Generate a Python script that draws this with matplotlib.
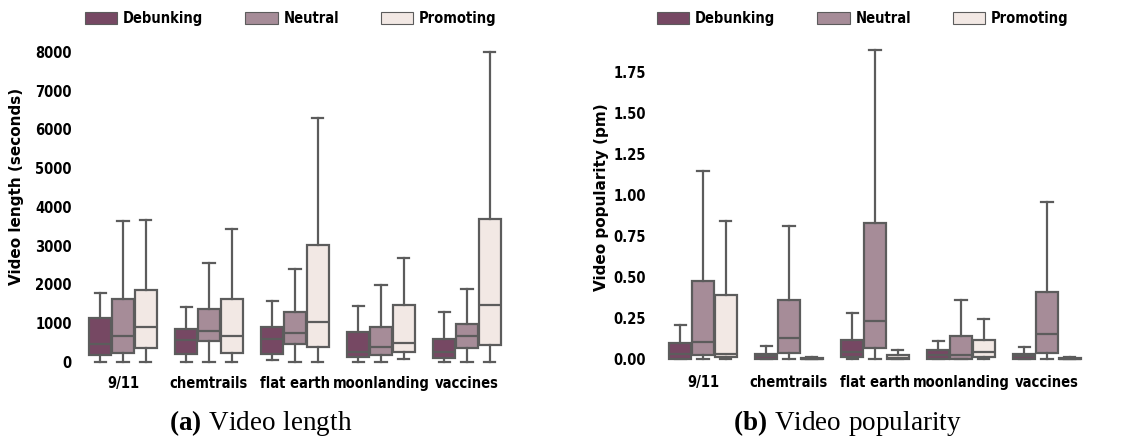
import matplotlib
matplotlib.use("Agg")
import matplotlib.pyplot as plt
from matplotlib.patches import Patch

plt.rcParams["font.family"] = ["DejaVu Sans"]
plt.rcParams["font.stretch"] = "condensed"
plt.rcParams["mathtext.fontset"] = "custom"
plt.rcParams["mathtext.rm"] = "Liberation Serif"
plt.rcParams["mathtext.bf"] = "Liberation Serif:bold"

categories = ["9/11", "chemtrails", "flat earth", "moonlanding", "vaccines"]
stances = ["Debunking", "Neutral", "Promoting"]
colors = ["#764863", "#A68C98", "#F2E8E4"]
edge = "#5c5c5c"

# Video length (seconds): per stance, per category -> whislo, q1, med, q3, whishi
len_whislo = {
    "Debunking": [0, 0, 40, 0, 0],
    "Neutral":   [0, 0, 0, 0, 0],
    "Promoting": [0, 0, 0, 80, 0],
}
len_q1 = {
    "Debunking": [170, 210, 200, 125, 90],
    "Neutral":   [230, 530, 455, 160, 360],
    "Promoting": [360, 230, 375, 255, 430],
}
len_med = {
    "Debunking": [445, 555, 580, 255, 245],
    "Neutral":   [670, 790, 745, 385, 650],
    "Promoting": [900, 660, 1030, 490, 1455],
}
len_q3 = {
    "Debunking": [1135, 835, 885, 755, 590],
    "Neutral":   [1610, 1350, 1290, 885, 970],
    "Promoting": [1845, 1620, 3020, 1470, 3690],
}
len_whishi = {
    "Debunking": [1770, 1400, 1560, 1430, 1275],
    "Neutral":   [3640, 2560, 2400, 1975, 1870],
    "Promoting": [3660, 3425, 6300, 2670, 8000],
}

# Video popularity (pm)
pop_whislo = {
    "Debunking": [0, 0, 0, 0, 0],
    "Neutral":   [0, 0, 0, 0, 0],
    "Promoting": [0, 0, 0, 0, 0],
}
pop_q1 = {
    "Debunking": [0.005, 0.003, 0.015, 0.004, 0.004],
    "Neutral":   [0.025, 0.04, 0.07, 0.004, 0.04],
    "Promoting": [0.015, 0.0, 0.003, 0.015, 0.0],
}
pop_med = {
    "Debunking": [0.035, 0.022, 0.045, 0.025, 0.022],
    "Neutral":   [0.105, 0.13, 0.235, 0.03, 0.155],
    "Promoting": [0.035, 0.002, 0.012, 0.045, 0.003],
}
pop_q3 = {
    "Debunking": [0.10, 0.035, 0.12, 0.055, 0.035],
    "Neutral":   [0.48, 0.36, 0.83, 0.145, 0.41],
    "Promoting": [0.39, 0.008, 0.03, 0.12, 0.008],
}
pop_whishi = {
    "Debunking": [0.21, 0.08, 0.28, 0.11, 0.075],
    "Neutral":   [1.145, 0.815, 1.885, 0.36, 0.955],
    "Promoting": [0.845, 0.015, 0.06, 0.245, 0.015],
}

len_yticks = [0, 1000, 2000, 3000, 4000, 5000, 6000, 7000, 8000]
pop_yticks = [0.0, 0.25, 0.5, 0.75, 1.0, 1.25, 1.5, 1.75]
pop_yticklabels = ["0.00", "0.25", "0.50", "0.75", "1.00", "1.25", "1.50", "1.75"]

fig = plt.figure(figsize=(11.29, 4.41), dpi=100)

ax1 = fig.add_axes([80 / 1129, 0.1624, 430 / 1129, 0.7458])
ax2 = fig.add_axes([660 / 1129, 0.1662, 430 / 1129, 0.7567])


def draw(ax, wlo, q1, med, q3, whi):
    width = 0.8 / 3
    for si, s in enumerate(stances):
        stats = []
        positions = []
        for ci, c in enumerate(categories):
            stats.append(dict(whislo=wlo[s][ci], q1=q1[s][ci], med=med[s][ci],
                              q3=q3[s][ci], whishi=whi[s][ci], fliers=[]))
            positions.append(ci - 0.8 / 2 + width * (si + 0.5))
        ax.bxp(stats, positions=positions, widths=width * 0.97, patch_artist=True,
               showfliers=False, manage_ticks=False,
               boxprops=dict(facecolor=colors[si], edgecolor=edge, linewidth=1.6),
               medianprops=dict(color=edge, linewidth=1.6),
               whiskerprops=dict(color=edge, linewidth=1.6),
               capprops=dict(color=edge, linewidth=1.6))
    ax.set_xlim(-0.5, len(categories) - 0.5)
    ax.set_xticks(range(len(categories)))
    ax.set_xticklabels(categories, fontsize=10.5, fontweight="bold")
    for sp in ax.spines.values():
        sp.set_visible(False)
    ax.tick_params(axis="both", length=0)
    ax.tick_params(axis="x", pad=5)


draw(ax1, len_whislo, len_q1, len_med, len_q3, len_whishi)
ax1.set_ylim(-200, 8300)
ax1.set_yticks(len_yticks)
ax1.set_yticklabels([str(v) for v in len_yticks], fontsize=10.5, fontweight="bold")
ax1.tick_params(axis="y", pad=6)
ax1.set_ylabel("Video length (seconds)", fontsize=11, fontweight="bold", fontstretch="normal")
ax1.yaxis.set_label_coords(-0.130, 0.555)

draw(ax2, pop_whislo, pop_q1, pop_med, pop_q3, pop_whishi)
ax2.set_ylim(-0.05, 1.98)
ax2.set_yticks(pop_yticks)
ax2.set_yticklabels(pop_yticklabels, fontsize=10.5, fontweight="bold")
ax2.tick_params(axis="y", pad=10)
ax2.set_ylabel("Video popularity (pm)", fontsize=11, fontweight="bold", fontstretch="normal")
ax2.yaxis.set_label_coords(-0.119, 0.512)

handles = [Patch(facecolor=colors[i], edgecolor=edge, linewidth=0.8, label=stances[i])
           for i in range(3)]
for x0, cs in [(85, 2.9), (657, 2.9)]:
    fig.legend(handles=handles, loc="center left",
               bbox_to_anchor=(x0 / 1129, 1 - 18.5 / 441), ncol=3, frameon=False,
               prop=dict(weight="bold", size=10.5, stretch="condensed"),
               handlelength=2.2, handleheight=0.9,
               columnspacing=cs, handletextpad=0.4, borderaxespad=0, borderpad=0)

fig.text(261 / 1129, 1 - 423 / 441, r"$\mathbf{(a)}$$\mathrm{\ Video\ length}$", ha="center", va="center",
         fontsize=19.5)
fig.text(847 / 1129, 1 - 423 / 441, r"$\mathbf{(b)}$$\mathrm{\ Video\ popularity}$", ha="center", va="center",
         fontsize=19.5)

fig.savefig("out.png", dpi=100)
